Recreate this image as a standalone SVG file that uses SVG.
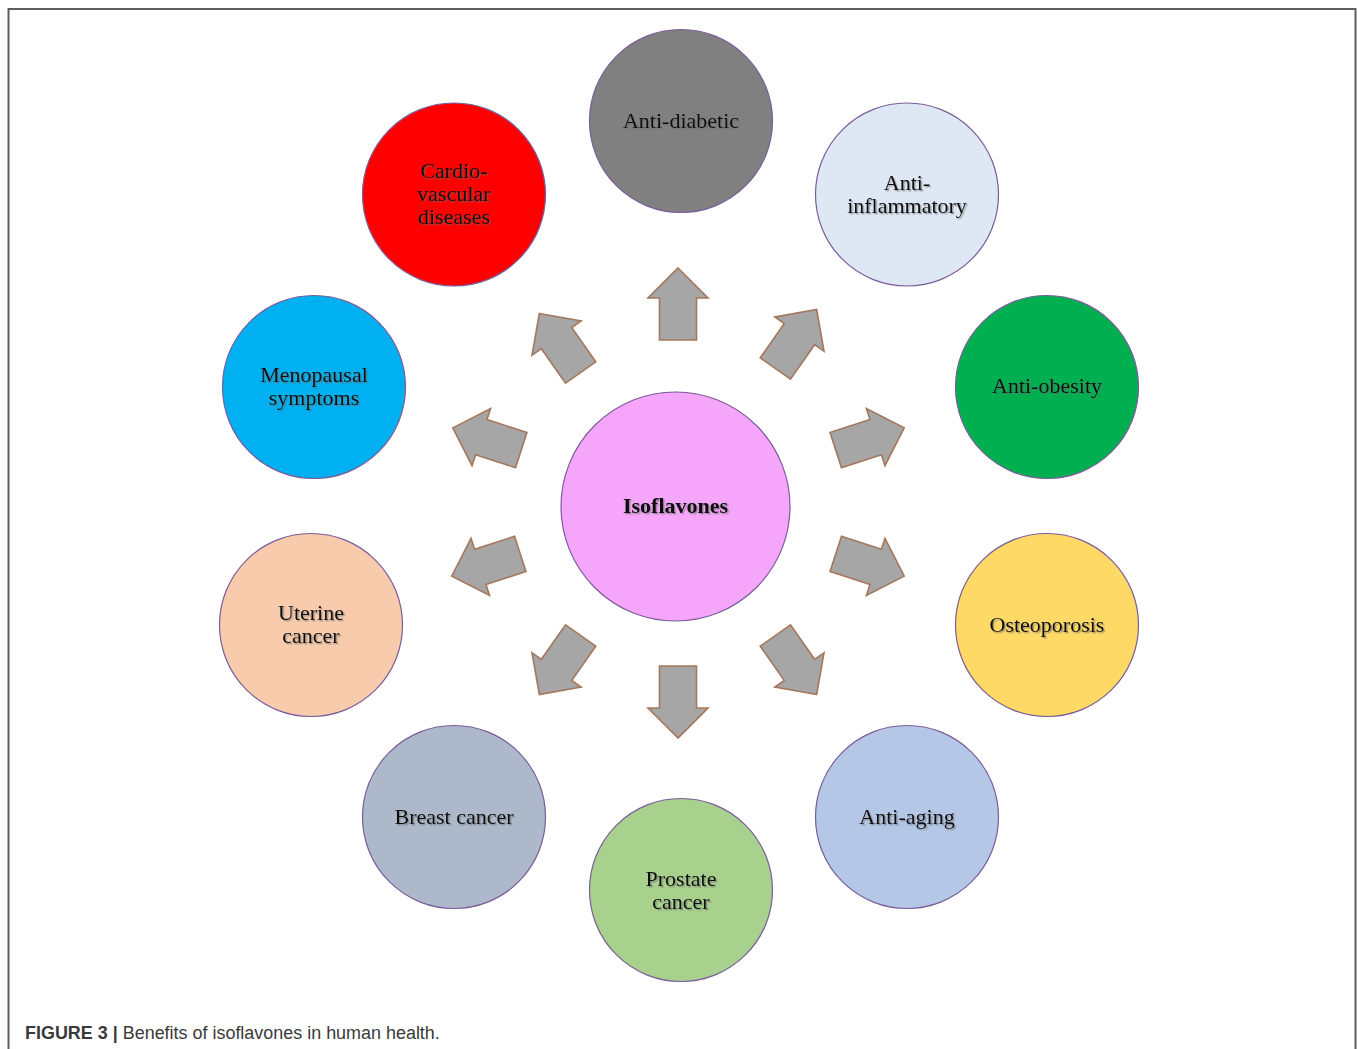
<svg xmlns="http://www.w3.org/2000/svg" width="1358" height="1049" viewBox="0 0 1358 1049">
  <style>
    .node { stroke: #7a5c9a; stroke-width: 1.2; }
    .lbl { font-family: "Liberation Serif", "Times New Roman", serif; font-size: 22px; fill: #0d0d0d; text-anchor: middle; filter: url(#shadow); }
    .bold { font-weight: bold; }
    .arrow { fill: #a6a6a6; stroke: #a5775a; stroke-width: 1.6; stroke-linejoin: miter; }
    .cap { font-family: "Liberation Sans", Arial, sans-serif; font-size: 17.95px; fill: #3a3a3a; }
  </style>
  <defs>
    <filter id="shadow" x="-10%" y="-30%" width="130%" height="170%">
      <feDropShadow dx="1.4" dy="1.4" stdDeviation="0.7" flood-color="#6a6a6a" flood-opacity="0.6"/>
    </filter>
    <!-- block arrow pointing up, centred on the origin -->
    <path id="blockArrow" class="arrow" d="M0,-36 L30,-6 L18.5,-6 L18.5,36 L-18.5,36 L-18.5,-6 L-30,-6 Z"/>
  </defs>

  <rect width="1358" height="1049" fill="#ffffff"/>
  <!-- figure frame -->
  <path d="M8.5,1049 V9 H1355.5 V1049" fill="none" stroke="#5e5e5e" stroke-width="2"/>

  <g id="connectors">
    <use href="#blockArrow" transform="translate(678,304)"/>
    <use href="#blockArrow" transform="translate(560,343) rotate(-35)"/>
    <use href="#blockArrow" transform="translate(796,339) rotate(35)"/>
    <use href="#blockArrow" transform="translate(487,439) rotate(-72)"/>
    <use href="#blockArrow" transform="translate(870,439) rotate(72)"/>
    <use href="#blockArrow" transform="translate(486,565) rotate(-108)"/>
    <use href="#blockArrow" transform="translate(870,565) rotate(108)"/>
    <use href="#blockArrow" transform="translate(560,665) rotate(-145)"/>
    <use href="#blockArrow" transform="translate(796,665) rotate(145)"/>
    <use href="#blockArrow" transform="translate(678,702) rotate(180)"/>
  </g>

  <g id="isoflavones">
    <circle class="node" cx="675.5" cy="506.5" r="114.5" fill="#f5a6fa"/>
    <text class="lbl bold" x="675.5" y="513">Isoflavones</text>
  </g>

  <g id="anti-diabetic">
    <circle class="node" cx="681" cy="121" r="91.5" fill="#808080"/>
    <text class="lbl" x="681" y="128">Anti-diabetic</text>
  </g>

  <g id="cardiovascular">
    <circle class="node" cx="454" cy="194.5" r="91.5" fill="#ff0000"/>
    <text class="lbl" x="454" y="178">Cardio-</text>
    <text class="lbl" x="454" y="201">vascular</text>
    <text class="lbl" x="454" y="224">diseases</text>
  </g>

  <g id="anti-inflammatory">
    <circle class="node" cx="907" cy="194.5" r="91.5" fill="#dee8f5"/>
    <text class="lbl" x="907" y="190">Anti-</text>
    <text class="lbl" x="907" y="213">inflammatory</text>
  </g>

  <g id="menopausal">
    <circle class="node" cx="314" cy="387" r="91.5" fill="#00b0f0"/>
    <text class="lbl" x="314" y="382">Menopausal</text>
    <text class="lbl" x="314" y="405">symptoms</text>
  </g>

  <g id="anti-obesity">
    <circle class="node" cx="1047" cy="387" r="91.5" fill="#00b050"/>
    <text class="lbl" x="1047" y="393">Anti-obesity</text>
  </g>

  <g id="uterine">
    <circle class="node" cx="311" cy="625" r="91.5" fill="#f8cbad"/>
    <text class="lbl" x="311" y="620">Uterine</text>
    <text class="lbl" x="311" y="643">cancer</text>
  </g>

  <g id="osteoporosis">
    <circle class="node" cx="1047" cy="625" r="91.5" fill="#ffd966"/>
    <text class="lbl" x="1047" y="632">Osteoporosis</text>
  </g>

  <g id="breast">
    <circle class="node" cx="454" cy="817" r="91.5" fill="#adb9ca"/>
    <text class="lbl" x="454" y="824">Breast cancer</text>
  </g>

  <g id="anti-aging">
    <circle class="node" cx="907" cy="817" r="91.5" fill="#b4c7e7"/>
    <text class="lbl" x="907" y="824">Anti-aging</text>
  </g>

  <g id="prostate">
    <circle class="node" cx="681" cy="890" r="91.5" fill="#a9d18e"/>
    <text class="lbl" x="681" y="886">Prostate</text>
    <text class="lbl" x="681" y="909">cancer</text>
  </g>

  <text class="cap" x="25" y="1039"><tspan font-weight="bold">FIGURE 3 |</tspan> Benefits of isoflavones in human health.</text>
</svg>
